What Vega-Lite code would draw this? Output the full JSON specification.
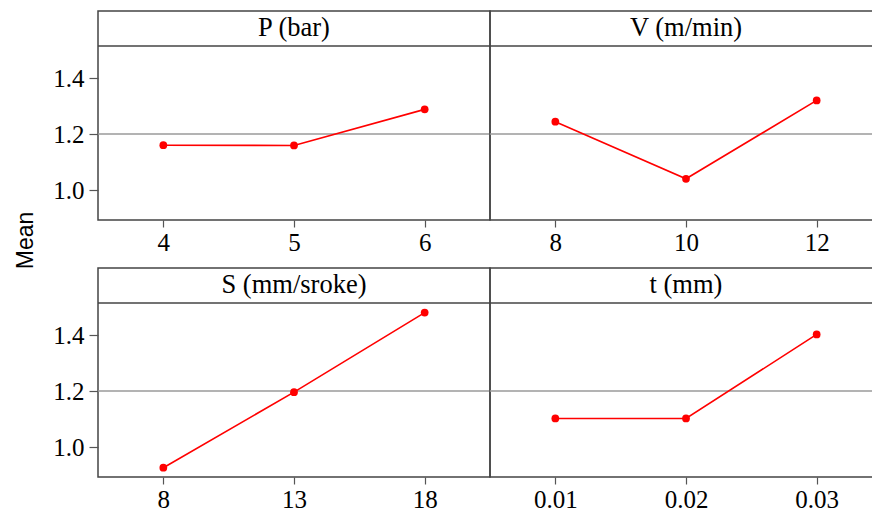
{
  "$schema": "https://vega.github.io/schema/vega-lite/v6.json",
  "autosize": {"type": "pad"},
  "padding": {"left": 15, "top": 10, "right": -11, "bottom": 0},
  "background": "white",
  "title": {"text": "Mean", "orient": "left", "anchor": "middle", "font": "Liberation Sans", "fontSize": 23, "fontWeight": "normal", "color": "#000000", "offset": 14, "dx": 21},
  "datasets": {
    "effects": [
      {"factor": "P (bar)", "level": 4, "mean": 1.160},
      {"factor": "P (bar)", "level": 5, "mean": 1.159},
      {"factor": "P (bar)", "level": 6, "mean": 1.288},
      {"factor": "V (m/min)", "level": 8, "mean": 1.244},
      {"factor": "V (m/min)", "level": 10, "mean": 1.040},
      {"factor": "V (m/min)", "level": 12, "mean": 1.320},
      {"factor": "S (mm/sroke)", "level": 8, "mean": 0.926},
      {"factor": "S (mm/sroke)", "level": 13, "mean": 1.196},
      {"factor": "S (mm/sroke)", "level": 18, "mean": 1.480},
      {"factor": "t (mm)", "level": 0.01, "mean": 1.102},
      {"factor": "t (mm)", "level": 0.02, "mean": 1.102},
      {"factor": "t (mm)", "level": 0.03, "mean": 1.402}
    ]
  },
  "config": {
    "view": {"stroke": "#444444", "strokeWidth": 1.5},
    "axis": {"domain": false, "grid": false, "tickColor": "#555555", "tickWidth": 1.2, "labelFont": "Liberation Serif", "labelFontSize": 25, "labelColor": "#000000", "title": null},
    "axisX": {"tickSize": 7, "labelPadding": 3, "labelAngle": 0},
    "axisY": {"tickSize": 9, "labelPadding": 5},
    "concat": {"spacing": 0}
  },
  "spacing": 11,
  "vconcat": [
    {
      "spacing": 0,
      "bounds": "flush",
      "hconcat": [
        {
          "width": 392, "height": 209,
          "layer": [
            {"data": {"values": [{}]}, "mark": {"type": "rule", "color": "#9a9a9a", "strokeWidth": 1.5}, "encoding": {"y": {"datum": 1.2, "type": "quantitative"}}},
            {"data": {"values": [{}]}, "mark": {"type": "rule", "color": "#444444", "strokeWidth": 1.5}, "encoding": {"y": {"datum": 1.514, "type": "quantitative"}}},
            {"data": {"name": "effects"}, "transform": [{"filter": "datum.factor === 'P (bar)'"}], "mark": {"type": "line", "color": "#ff0000", "strokeWidth": 1.6},
             "encoding": {"x": {"field": "level", "type": "ordinal", "scale": {"type": "point", "padding": 0.5}},
                          "y": {"field": "mean", "type": "quantitative", "scale": {"domain": [0.8929, 1.6393], "nice": false, "zero": false}, "axis": {"values": [1.0, 1.2, 1.4], "format": ".1f"}}}},
            {"data": {"name": "effects"}, "transform": [{"filter": "datum.factor === 'P (bar)'"}], "mark": {"type": "point", "filled": true, "color": "#ff0000", "size": 60, "opacity": 1},
             "encoding": {"x": {"field": "level", "type": "ordinal"}, "y": {"field": "mean", "type": "quantitative"}}},
            {"data": {"values": [{}]}, "mark": {"type": "text", "font": "Liberation Serif", "fontSize": 26.5, "baseline": "middle", "color": "#000000"},
             "encoding": {"x": {"datum": 5, "type": "ordinal"}, "y": {"datum": 1.577, "type": "quantitative"}, "text": {"value": "P (bar)"}}}
          ]
        },
        {
          "width": 392, "height": 209,
          "layer": [
            {"data": {"values": [{}]}, "mark": {"type": "rule", "color": "#9a9a9a", "strokeWidth": 1.5}, "encoding": {"y": {"datum": 1.2, "type": "quantitative"}}},
            {"data": {"values": [{}]}, "mark": {"type": "rule", "color": "#444444", "strokeWidth": 1.5}, "encoding": {"y": {"datum": 1.514, "type": "quantitative"}}},
            {"data": {"name": "effects"}, "transform": [{"filter": "datum.factor === 'V (m/min)'"}], "mark": {"type": "line", "color": "#ff0000", "strokeWidth": 1.6},
             "encoding": {"x": {"field": "level", "type": "ordinal", "scale": {"type": "point", "padding": 0.5}},
                          "y": {"field": "mean", "type": "quantitative", "scale": {"domain": [0.8929, 1.6393], "nice": false, "zero": false}, "axis": null}}},
            {"data": {"name": "effects"}, "transform": [{"filter": "datum.factor === 'V (m/min)'"}], "mark": {"type": "point", "filled": true, "color": "#ff0000", "size": 60, "opacity": 1},
             "encoding": {"x": {"field": "level", "type": "ordinal"}, "y": {"field": "mean", "type": "quantitative"}}},
            {"data": {"values": [{}]}, "mark": {"type": "text", "font": "Liberation Serif", "fontSize": 26.5, "baseline": "middle", "color": "#000000"},
             "encoding": {"x": {"datum": 10, "type": "ordinal"}, "y": {"datum": 1.577, "type": "quantitative"}, "text": {"value": "V (m/min)"}}}
          ]
        }
      ]
    },
    {
      "spacing": 0,
      "bounds": "flush",
      "hconcat": [
        {
          "width": 392, "height": 209,
          "layer": [
            {"data": {"values": [{}]}, "mark": {"type": "rule", "color": "#9a9a9a", "strokeWidth": 1.5}, "encoding": {"y": {"datum": 1.2, "type": "quantitative"}}},
            {"data": {"values": [{}]}, "mark": {"type": "rule", "color": "#444444", "strokeWidth": 1.5}, "encoding": {"y": {"datum": 1.514, "type": "quantitative"}}},
            {"data": {"name": "effects"}, "transform": [{"filter": "datum.factor === 'S (mm/sroke)'"}], "mark": {"type": "line", "color": "#ff0000", "strokeWidth": 1.6},
             "encoding": {"x": {"field": "level", "type": "ordinal", "scale": {"type": "point", "padding": 0.5}},
                          "y": {"field": "mean", "type": "quantitative", "scale": {"domain": [0.8929, 1.6393], "nice": false, "zero": false}, "axis": {"values": [1.0, 1.2, 1.4], "format": ".1f"}}}},
            {"data": {"name": "effects"}, "transform": [{"filter": "datum.factor === 'S (mm/sroke)'"}], "mark": {"type": "point", "filled": true, "color": "#ff0000", "size": 60, "opacity": 1},
             "encoding": {"x": {"field": "level", "type": "ordinal"}, "y": {"field": "mean", "type": "quantitative"}}},
            {"data": {"values": [{}]}, "mark": {"type": "text", "font": "Liberation Serif", "fontSize": 26.5, "baseline": "middle", "color": "#000000"},
             "encoding": {"x": {"datum": 13, "type": "ordinal"}, "y": {"datum": 1.577, "type": "quantitative"}, "text": {"value": "S (mm/sroke)"}}}
          ]
        },
        {
          "width": 392, "height": 209,
          "layer": [
            {"data": {"values": [{}]}, "mark": {"type": "rule", "color": "#9a9a9a", "strokeWidth": 1.5}, "encoding": {"y": {"datum": 1.2, "type": "quantitative"}}},
            {"data": {"values": [{}]}, "mark": {"type": "rule", "color": "#444444", "strokeWidth": 1.5}, "encoding": {"y": {"datum": 1.514, "type": "quantitative"}}},
            {"data": {"name": "effects"}, "transform": [{"filter": "datum.factor === 't (mm)'"}], "mark": {"type": "line", "color": "#ff0000", "strokeWidth": 1.6},
             "encoding": {"x": {"field": "level", "type": "ordinal", "scale": {"type": "point", "padding": 0.5}},
                          "y": {"field": "mean", "type": "quantitative", "scale": {"domain": [0.8929, 1.6393], "nice": false, "zero": false}, "axis": null}}},
            {"data": {"name": "effects"}, "transform": [{"filter": "datum.factor === 't (mm)'"}], "mark": {"type": "point", "filled": true, "color": "#ff0000", "size": 60, "opacity": 1},
             "encoding": {"x": {"field": "level", "type": "ordinal"}, "y": {"field": "mean", "type": "quantitative"}}},
            {"data": {"values": [{}]}, "mark": {"type": "text", "font": "Liberation Serif", "fontSize": 26.5, "baseline": "middle", "color": "#000000"},
             "encoding": {"x": {"datum": 0.02, "type": "ordinal"}, "y": {"datum": 1.577, "type": "quantitative"}, "text": {"value": "t (mm)"}}}
          ]
        }
      ]
    }
  ]
}
